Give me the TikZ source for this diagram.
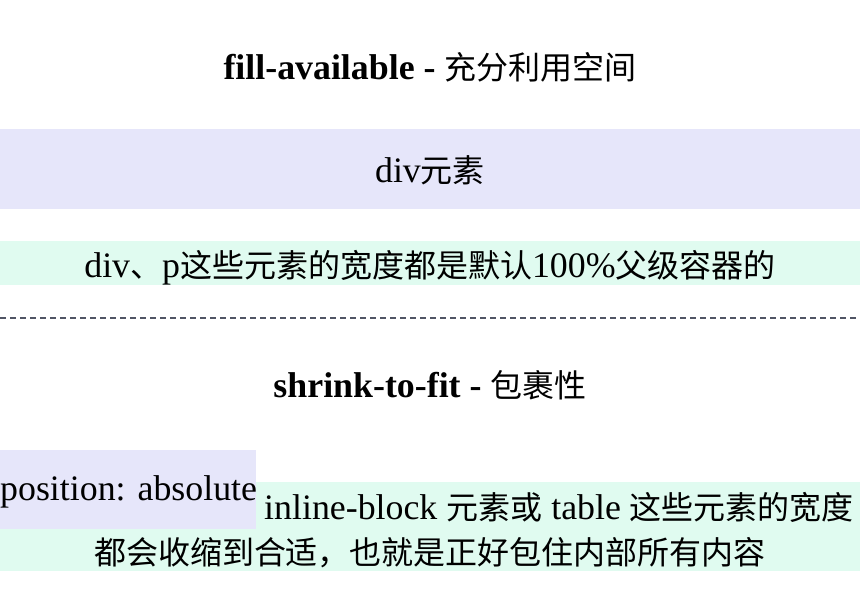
\documentclass[tikz,border=0pt]{standalone}
\usepackage{fontspec}
\setmainfont{Liberation Serif}[Scale=1.12]
\newfontfamily\cjkfont{Noto Sans CJK SC}
\newcommand{\zh}[1]{{\cjkfont\mdseries #1}}
\definecolor{lavfill}{RGB}{230,230,250}
\definecolor{mintfill}{RGB}{224,251,240}
\definecolor{rulegray}{RGB}{80,84,100}
\usetikzlibrary{positioning}

\begin{document}
\begin{tikzpicture}[x=1pt, y=-1pt,
    every node/.style={inner sep=0pt, font=\fontsize{32}{40}\selectfont},
    heading/.style={anchor=base, font=\fontsize{32}{40}\selectfont\bfseries},
    textline/.style={anchor=base},
    divider/.style={draw=rulegray, line width=2.2pt, dash pattern=on 6pt off 4pt}
]
\useasboundingbox (0,0) rectangle (860,600);

\fill[lavfill] (0,129) rectangle (860,209);
\fill[mintfill] (0,241) rectangle (860,285);
\fill[mintfill] (0,482) rectangle (860,571);
\fill[lavfill] (0,450) rectangle (256,529);

\node[heading] (fillTitle) at (430,79) {fill-available - \zh{充分利用空间}};
\node[textline] (divText) at (430,182) {div\zh{元素}};
\node[textline] (divNote) at (430,277) {div\zh{、}p\zh{这些元素的宽度都是默认}100\%\zh{父级容器的}};

\coordinate (ruleL) at (0,318);
\coordinate (ruleR) at (860,318);
\draw[divider] (ruleL) -- (ruleR);

\node[heading] (shrinkTitle) at (430,397) {shrink-to-fit - \zh{包裹性}};
\node[textline, anchor=base west] (absText) at (0,500) {position: absolute};
\node[textline, anchor=base west] (inlineText) at (264,519) {inline-block \zh{元素或} table \zh{这些元素的宽度}};
\node[textline] (inlineRest) at (430,564) {\zh{都会收缩到合适，也就是正好包住内部所有内容}};
\end{tikzpicture}
\end{document}
